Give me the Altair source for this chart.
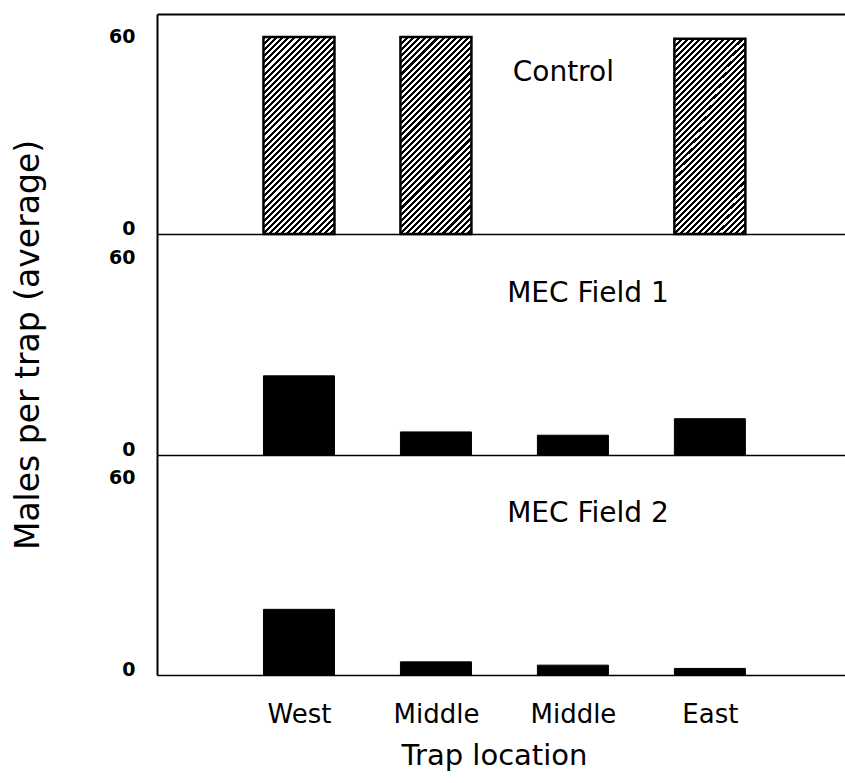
import json
import altair as alt
import pandas as pd

# ---------------- data ----------------
locations = ["West", "Middle", "Middle", "East"]
positions = [1, 2, 3, 4]
control = [60, 60, None, 59.5]
field1 = [24, 7, 6, 11]
field2 = [20, 4, 3, 2]
panel_names = ["Control", "MEC Field 1", "MEC Field 2"]
panel_label_x = [2.93, 3.11, 3.11]
panel_label_y = [46.5, 46.5, 46.5]
y_ticks = [0, 60]

# ---------------- style ----------------
FONT = "DejaVu Sans"
XDOM = [0, 4.95]
YDOM = [0, 67]
W = 688
HEIGHTS = [220, 221, 220]
BAR_PX = 71

label_expr = json.dumps([""] + locations) + "[datum.value]"

# diagonal hatch as a hard-stop linear gradient (stripes running "/")
a = 197 / 71.0
k = (1 + a) / (1 + a * a)
n_stripes = 44
stops = []
for i in range(n_stripes):
    o0 = i / n_stripes
    o1 = (i + 0.5) / n_stripes
    o2 = (i + 1) / n_stripes
    stops += [
        alt.GradientStop(color="black", offset=o0),
        alt.GradientStop(color="black", offset=o1),
        alt.GradientStop(color="white", offset=o1),
        alt.GradientStop(color="white", offset=o2),
    ]
hatch = alt.LinearGradient(gradient="linear", stops=stops, x1=0, y1=0, x2=k, y2=k * a)


def panel(values, idx, height, hatched=False, top_axis=False, bottom_labels=False, ytitle=False):
    df = pd.DataFrame({"pos": positions, "loc": locations, "val": values}).dropna()
    xs = alt.Scale(domain=XDOM, nice=False, zero=False)
    ys = alt.Scale(domain=YDOM, nice=False)

    if bottom_labels:
        xaxis = alt.Axis(
            values=positions, labelExpr=label_expr, title="Trap location",
            ticks=False, labelPadding=26, labelFontSize=26, labelFlush=False,
            titleFontSize=29, titleFontWeight="normal", titlePadding=14, titleX=337,
            domainWidth=1.5, grid=False,
        )
    else:
        xaxis = alt.Axis(labels=False, ticks=False, title=None, domainWidth=1.5, grid=False)

    yaxis_kw = dict(
        values=y_ticks, ticks=False, grid=False, labelFontSize=19, labelFontWeight="bold",
        labelPadding=22, domainWidth=2,
        labelBaseline={"condition": {"test": "datum.value == 0", "value": "alphabetic"}, "value": "middle"},
    )
    if ytitle:
        yaxis = alt.Axis(
            title="Males per trap (average)", titleFontSize=33, titleFontWeight="normal",
            titleAngle=270, titleBaseline="alphabetic", titleX=-119, **yaxis_kw,
        )
    else:
        yaxis = alt.Axis(title=None, **yaxis_kw)

    if hatched:
        mark = alt.Chart(df).mark_bar(size=BAR_PX, fill=hatch, stroke="black", strokeWidth=2.5)
    else:
        mark = alt.Chart(df).mark_bar(size=BAR_PX, fill="black", stroke="black", strokeWidth=1)

    bars = mark.encode(
        x=alt.X("pos:Q", scale=xs, axis=xaxis),
        y=alt.Y("val:Q", scale=ys, axis=yaxis),
    )

    lab = pd.DataFrame({"t": [panel_names[idx]], "pos": [panel_label_x[idx]], "val": [panel_label_y[idx]]})
    text_x_axis = (
        alt.Axis(orient="top", labels=False, ticks=False, title=None, domainWidth=2, grid=False)
        if top_axis else xaxis
    )
    text = alt.Chart(lab).mark_text(
        font=FONT, fontSize=28, baseline="alphabetic", align="center", color="black"
    ).encode(
        x=alt.X("pos:Q", scale=xs, axis=text_x_axis),
        y=alt.Y("val:Q", scale=ys, axis=yaxis),
        text="t:N",
    )
    layered = alt.layer(bars, text).properties(width=W, height=height)
    if top_axis:
        layered = layered.resolve_axis(x="independent")
    return layered


p1 = panel(control, 0, HEIGHTS[0], hatched=True, top_axis=True)
p2 = panel(field1, 1, HEIGHTS[1], ytitle=True)
p3 = panel(field2, 2, HEIGHTS[2], bottom_labels=True)

chart = (
    alt.vconcat(p1, p2, p3, spacing=0)
    .properties(bounds="flush", padding={"left": 11, "top": 14, "right": 0, "bottom": 3})
    .configure(background="white")
    .configure_view(stroke=None)
    .configure_axis(
        domainColor="black", labelColor="black", titleColor="black",
        labelFont=FONT, titleFont=FONT, grid=False,
    )
)

chart.save("out.html", embed_options={"renderer": "svg", "actions": False})
